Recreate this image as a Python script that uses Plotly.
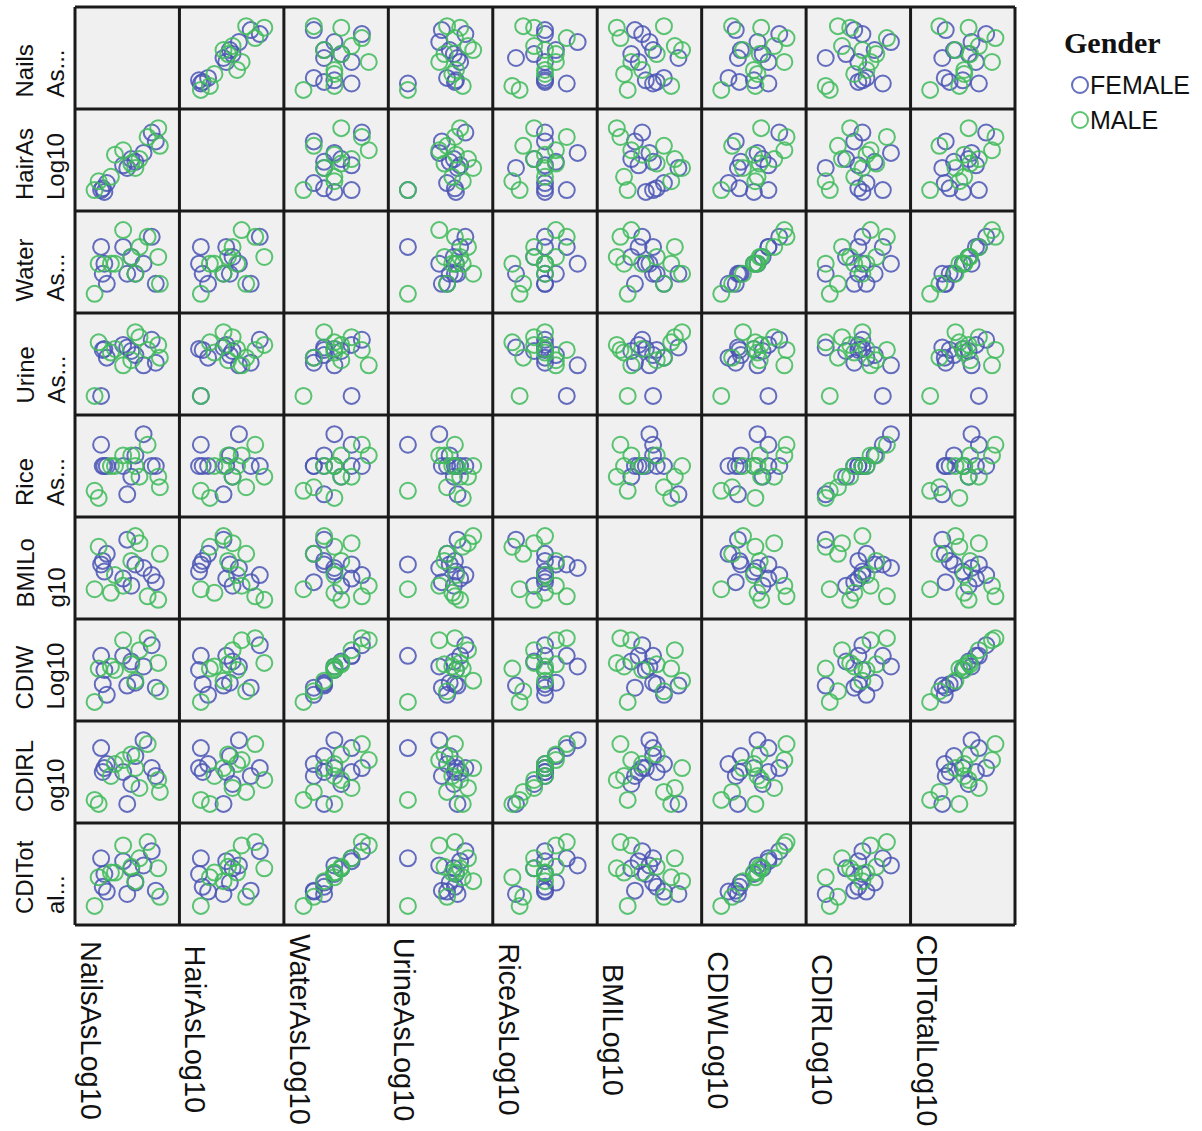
import plotly.graph_objects as go
from plotly.subplots import make_subplots

# Subject-level measurements (log10 scale), 11 female then 11 male
gender = ["FEMALE"] * 11 + ["MALE"] * 11

nails_as = [-0.20, -0.18, -0.15, 0.05, 0.15, 0.20, 0.40, 0.45, -0.22, 0.30, 0.10,
            -0.30, -0.25, -0.10, -0.05, 0.15, 0.25, 0.35, 0.50, 0.20, 0.05, 0.48]
hair_as = [-1.08, -1.12, -1.02, -0.82, -0.75, -0.78, -0.45, -0.55, -1.10, -0.68, -0.85,
           -1.10, -1.00, -0.95, -0.70, -0.80, -0.75, -0.50, -0.60, -0.85, -0.65, -0.40]
water_as = [0.10, 0.40, -0.20, 0.90, 0.60, 0.10, 1.20, -0.20, 0.90, 0.40, 0.10,
            -0.50, 0.40, 0.40, 0.40, 0.60, 0.90, 1.20, -0.20, 0.10, 1.40, 0.60]
urine_as = [1.50, 1.52, 1.35, 1.60, 1.48, 1.40, 1.70, 1.25, 0.60, 1.20, 1.55,
            0.60, 1.65, 1.45, 1.52, 1.30, 1.75, 1.50, 1.35, 1.85, 1.20, 1.60]
rice_as = [-0.75, -0.75, -0.75, -0.75, -0.90, -0.60, -0.75, -0.75, -0.45, -0.30, -1.15,
           -1.10, -1.20, -0.75, -0.75, -0.60, -0.90, -0.45, -1.05, -0.75, -0.60, -0.90]
bmi = [1.37, 1.34, 1.39, 1.32, 1.30, 1.36, 1.33, 1.31, 1.36, 1.35, 1.43,
       1.29, 1.41, 1.28, 1.33, 1.37, 1.42, 1.27, 1.39, 1.44, 1.30, 1.26]
cdi_w = [-0.90, -0.50, -1.20, -0.10, -0.26, -0.86, 0.20, -1.00, -0.10, -0.40, -0.94,
         -1.40, -0.46, -0.40, -0.50, -0.34, 0.06, 0.40, -1.10, -0.80, 0.34, -0.30]
cdi_r = [-0.50, -0.45, -0.40, -0.50, -0.65, -0.30, -0.45, -0.55, -0.20, -0.10, -0.90,
         -0.85, -0.90, -0.55, -0.40, -0.28, -0.70, -0.15, -0.75, -0.45, -0.35, -0.60]
cdi_total = [-0.42, -0.15, -0.52, 0.12, -0.03, -0.33, 0.33, -0.50, 0.18, 0.03, -0.57,
             -0.82, -0.22, -0.12, -0.12, 0.00, 0.18, 0.52, -0.63, -0.30, 0.45, -0.03]

var_names = ["NailsAsLog10", "HairAsLog10", "WaterAsLog10", "UrineAsLog10", "RiceAsLog10",
             "BMILog10", "CDIWLog10", "CDIRLog10", "CDITotalLog10"]
row_labels = ["Nails<br>As...", "HairAs<br>Log10", "Water<br>As...", "Urine<br>As...",
              "Rice<br>As...", "BMILo<br>g10", "CDIW<br>Log10", "CDIRL<br>og10", "CDITot<br>al..."]
series = [nails_as, hair_as, water_as, urine_as, rice_as, bmi, cdi_w, cdi_r, cdi_total]

colors = {"FEMALE": "#4a55b4", "MALE": "#40bb5a"}
point_colors = [colors[g] for g in gender]

n = len(series)
W, H = 1202, 1131
L, R, T, B = 75, 1015, 7, 925  # plot-area edges in pixels

fig = make_subplots(rows=n, cols=n, horizontal_spacing=0, vertical_spacing=0)


def axis_range(v):
    lo, hi = min(v), max(v)
    pad = 0.3 * (hi - lo)
    return [lo - pad, hi + pad]


for r in range(n):
    for c in range(n):
        if r != c:
            trace = go.Scatter(
                x=series[c], y=series[r], mode="markers",
                marker=dict(symbol="circle-open", size=16, color=point_colors,
                            line=dict(width=2), opacity=0.85),
                showlegend=False, hoverinfo="skip",
            )
        else:
            # diagonal cells stay empty but keep their background
            trace = go.Scatter(x=[None], y=[None], mode="markers",
                               showlegend=False, hoverinfo="skip")
        fig.add_trace(trace, row=r + 1, col=c + 1)
        fig.update_xaxes(range=axis_range(series[c]), row=r + 1, col=c + 1)
        fig.update_yaxes(range=axis_range(series[r]), row=r + 1, col=c + 1)

axis_style = dict(showgrid=False, zeroline=False, showticklabels=False, ticks="",
                  showline=False)
fig.update_xaxes(**axis_style)
fig.update_yaxes(**axis_style)

# Uniform cell frame drawn over the whole matrix
frame = dict(color="#1a1a1a", width=3)
for k in range(n + 1):
    fig.add_shape(type="line", xref="paper", yref="paper",
                  x0=k / n, x1=k / n, y0=0, y1=1, line=frame, layer="above")
    fig.add_shape(type="line", xref="paper", yref="paper",
                  x0=0, x1=1, y0=k / n, y1=k / n, line=frame, layer="above")


def px_x(p):
    return (p - L) / (R - L)


def px_y(p):
    return (B - p) / (B - T)


cell_w = (R - L) / n
cell_h = (B - T) / n
sans = "Liberation Sans, Arial, sans-serif"

# Row labels on the left, rotated to read upward
for i, lab in enumerate(row_labels):
    bottom = T + cell_h * (i + 1) - 9
    fig.add_annotation(
        text=lab, xref="paper", yref="paper", x=px_x(40), y=px_y(bottom),
        xanchor="center", yanchor="bottom", textangle=-90, align="left",
        showarrow=False, font=dict(family=sans, size=24, color="#111111"),
    )

# Column labels below, rotated to read downward
for j, lab in enumerate(var_names):
    fig.add_annotation(
        text=lab, xref="paper", yref="paper", x=px_x(L + cell_w * j + 16), y=px_y(1030),
        xanchor="center", yanchor="middle", textangle=90,
        showarrow=False, font=dict(family=sans, size=29, color="#111111"),
    )

# Legend
fig.add_annotation(
    text="<b>Gender</b>", xref="paper", yref="paper", x=px_x(1062), y=px_y(43),
    xanchor="left", yanchor="middle", showarrow=False,
    font=dict(family="Liberation Serif, Times New Roman, serif", size=30, color="#111111"),
)
for g, cy in [("FEMALE", 85), ("MALE", 120)]:
    fig.add_shape(
        type="circle", xref="paper", yref="paper", xsizemode="pixel", ysizemode="pixel",
        xanchor=px_x(1080), yanchor=px_y(cy), x0=-8, x1=8, y0=-8, y1=8,
        line=dict(color=colors[g], width=2), fillcolor="rgba(0,0,0,0)", opacity=0.85,
    )
    fig.add_annotation(
        text=g, xref="paper", yref="paper", x=px_x(1088), y=px_y(cy),
        xanchor="left", yanchor="middle", showarrow=False,
        font=dict(family=sans, size=25, color="#111111"),
    )

fig.update_layout(
    width=W, height=H,
    margin=dict(l=L, r=W - R, t=T, b=H - B),
    plot_bgcolor="#f0f0f0", paper_bgcolor="white",
    showlegend=False,
)

fig.write_html("out.html")
